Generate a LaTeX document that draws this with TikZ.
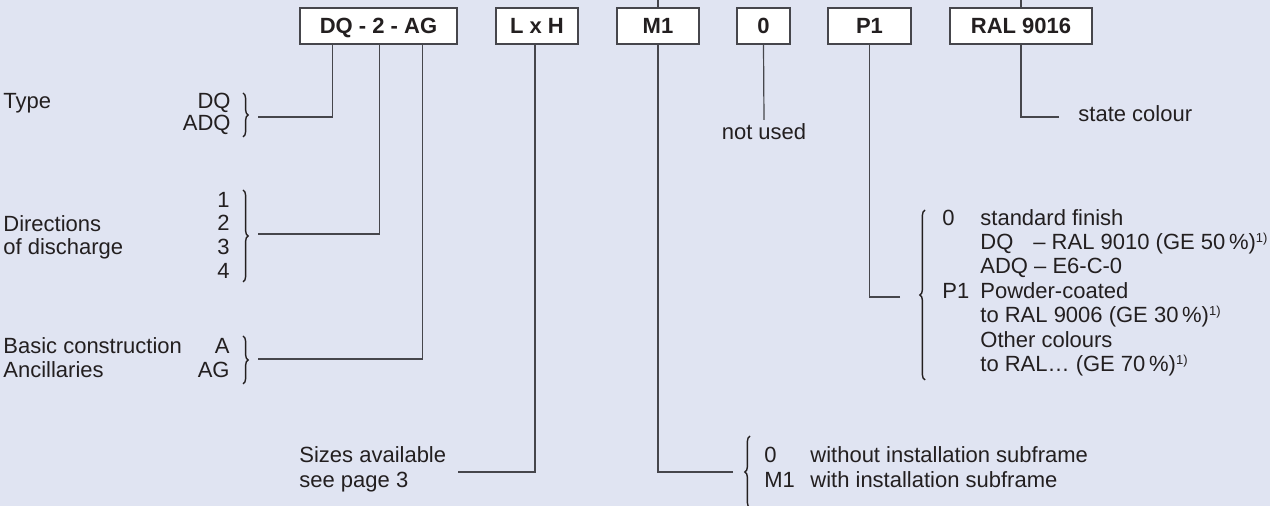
\documentclass[tikz,border=0pt]{standalone}
\usepackage{fontspec}
\setmainfont{Liberation Sans}
\usetikzlibrary{decorations.pathreplacing}
\definecolor{bg}{RGB}{224,228,242}
\definecolor{ink}{RGB}{35,31,32}
\definecolor{ln}{RGB}{70,70,76}
\newcommand\fnote{\raisebox{0.32em}{\fontsize{6.5}{7}\selectfont 1)}}
\begin{document}
\begin{tikzpicture}[x=0.5pt,y=-0.5pt,
  font=\fontsize{11}{12}\selectfont,
  codebox/.style={draw=ln, fill=white, line width=0.6pt, text=ink,
    font=\bfseries\fontsize{11}{12}\selectfont, minimum height=18pt, inner sep=0pt,
    text height=0.72em, text depth=0pt},
  lbl/.style={inner sep=0pt, text height=0.75em, text depth=0.25em, text=ink},
  conn/.style={draw=ln, line width=0.6pt},
  brc/.style={draw=ink, line width=0.7pt, decorate, decoration={brace, amplitude=2.6pt}}]
\fill[bg] (0,0) rectangle (1270,506);
\useasboundingbox (0,0) rectangle (1270,506);

% code boxes
\node[codebox, minimum width=78.5pt] (dq) at (378.5,26) {DQ - 2 - AG};
\node[codebox, minimum width=41pt] (lxh) at (537,26) {L x H};
\node[codebox, minimum width=41pt] (m1) at (658,26) {M1};
\node[codebox, minimum width=26.5pt] (zero) at (763.5,26) {0};
\node[codebox, minimum width=41.5pt] (p1) at (869.5,26) {P1};
\node[codebox, minimum width=71pt] (ral) at (1021,26) {RAL 9016};

% lines from top edge
\coordinate (m1top) at (658,0);
\coordinate (raltop) at (1021,0);
\draw[conn] (m1top) -- (m1.north);
\draw[conn] (raltop) -- (ral.north);

% Type
\node[lbl, anchor=west] (type) at (3,104) {Type};
\node[lbl, anchor=east] (tdq) at (231,104) {DQ};
\node[lbl, anchor=east] (tadq) at (231,126) {ADQ};
\coordinate (tb1) at (243,93);
\coordinate (tb2) at (243,137);
\draw[brc] (tb1) -- (tb2);
\coordinate (typeR) at (258,117);
\draw[conn] (typeR) -| ([xshift=16.5pt]dq.south west);

% Directions
\node[lbl, anchor=west] (dir1) at (3,227) {Directions};
\node[lbl, anchor=west] (dir2) at (3,250) {of discharge};
\node[lbl, anchor=east] (d1) at (230,203) {1};
\node[lbl, anchor=east] (d2) at (230,226) {2};
\node[lbl, anchor=east] (d3) at (230,250) {3};
\node[lbl, anchor=east] (d4) at (230,274) {4};
\coordinate (db1) at (243,190);
\coordinate (db2) at (243,282);
\draw[brc] (db1) -- (db2);
\coordinate (dirR) at (258,234);
\draw[conn] (dirR) -| ([xshift=40pt]dq.south west);

% Basic construction
\node[lbl, anchor=west] (bas) at (3,349) {Basic construction};
\node[lbl, anchor=west] (anc) at (3,373) {Ancillaries};
\node[lbl, anchor=east] (ba) at (230,349) {A};
\node[lbl, anchor=east] (bag) at (230,373) {AG};
\coordinate (bb1) at (243,336);
\coordinate (bb2) at (243,384);
\draw[brc] (bb1) -- (bb2);
\coordinate (basR) at (258,359);
\draw[conn] (basR) -| ([xshift=61.5pt]dq.south west);

% Sizes
\node[lbl, anchor=west] (siz1) at (299,458) {Sizes available};
\node[lbl, anchor=west] (siz2) at (299,483) {see page 3};
\coordinate (sizR) at (458,472);
\draw[conn] (sizR) -| ([xshift=-1pt]lxh.south);

% M1 options
\coordinate (mb1) at (750,508);
\coordinate (mb2) at (750,436);
\draw[brc] (mb1) -- (mb2);
\coordinate (mL) at (733,472);
\draw[conn] (mL) -| (m1.south);
\node[lbl, anchor=west] (m0) at (764,458) {0};
\node[lbl, anchor=west] (mm1) at (764,483) {M1};
\node[lbl, anchor=west] (mt1) at (810,458) {without installation subframe};
\node[lbl, anchor=west] (mt2) at (810,483) {with installation subframe};

% not used
\node[lbl, anchor=north] (nu) at (764,124) {not used};
\draw[conn] (zero.south) -- ([yshift=2pt]nu.north);

% P1 options
\coordinate (pb1) at (925,380);
\coordinate (pb2) at (925,210);
\draw[brc] (pb1) -- (pb2);
\coordinate (pL) at (900,297);
\draw[conn] (pL) -| (p1.south);
\node[lbl, anchor=west] (p0) at (942,221) {0};
\node[lbl, anchor=west] (pt1) at (980,221) {standard finish};
\node[lbl, anchor=west] (pt2a) at (980,245) {DQ};
\node[lbl, anchor=west] (pt2b) at (1033,245) {– RAL 9010 (GE 50\,\%)\fnote};
\node[lbl, anchor=west] (pt3) at (980,269) {ADQ – E6-C-0};
\node[lbl, anchor=west] (pp1) at (942,294) {P1};
\node[lbl, anchor=west] (pt4) at (980,294) {Powder-coated};
\node[lbl, anchor=west] (pt5) at (980,318) {to RAL 9006 (GE 30\,\%)\fnote};
\node[lbl, anchor=west] (pt6) at (980,343) {Other colours};
\node[lbl, anchor=west] (pt7) at (980,367) {to RAL… (GE 70\,\%)\fnote};

% state colour
\coordinate (rR) at (1059,117);
\draw[conn] (rR) -| (ral.south);
\node[lbl, anchor=west] (sc) at (1078,117) {state colour};
\end{tikzpicture}
\end{document}
